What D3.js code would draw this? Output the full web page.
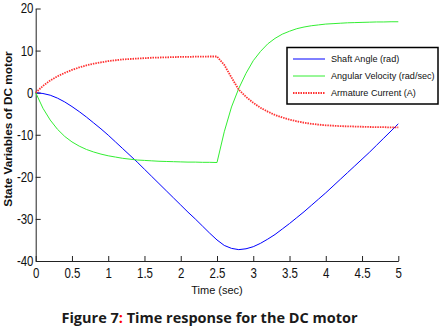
<!DOCTYPE html>
<html>
<head>
<meta charset="utf-8">
<script src="https://cdn.jsdelivr.net/npm/d3@7"></script>
<style>
  body { margin: 0; background: #fff; }
  svg { display: block; }
</style>
</head>
<body>
<script>
// time samples (sec)
const time = [0,0.1,0.2,0.3,0.4,0.5,0.6,0.7,0.8,0.9,1,1.1,1.2,1.3,1.4,1.5,1.6,1.7,1.8,1.9,2,
  2.1,2.2,2.3,2.4,2.5,2.6,2.7,2.8,2.9,3,3.1,3.2,3.3,3.4,3.5,3.6,3.7,3.8,3.9,4,
  4.1,4.2,4.3,4.4,4.5,4.6,4.7,4.8,4.9,5];

const shaftAngle = [0,-0.2,-0.6,-1.3,-2.2,-3.3,-4.5,-5.8,-7.2,-8.6,-10.1,-11.7,-13.3,-14.9,-16.5,
  -18.2,-19.9,-21.6,-23.3,-25.0,-26.7,-28.4,-30.0,-31.7,-33.4,-35.0,
  -36.3,-37.0,-37.3,-37.1,-36.6,-35.8,-34.8,-33.7,-32.4,-31.1,-29.7,-28.3,-26.8,-25.3,-23.8,
  -22.2,-20.6,-19.0,-17.4,-15.8,-14.2,-12.5,-10.8,-9.1,-7.4];

const angularVelocity = [0,-3.7,-6.5,-8.7,-10.4,-11.7,-12.7,-13.5,-14.1,-14.6,-15.0,-15.3,-15.6,
  -15.8,-16.0,-16.1,-16.2,-16.3,-16.35,-16.4,-16.45,-16.5,-16.5,-16.55,-16.55,-16.6,
  -9.3,-3.4,1.0,4.6,7.6,9.8,11.6,12.9,13.9,14.6,15.2,15.6,15.9,16.1,16.3,
  16.4,16.5,16.6,16.65,16.7,16.75,16.8,16.8,16.85,16.85];

const armatureCurrent = [0,1.6,2.9,3.9,4.7,5.4,6.0,6.5,6.9,7.2,7.5,7.7,7.9,8.0,8.1,8.2,8.3,
  8.35,8.4,8.45,8.5,8.5,8.55,8.55,8.6,8.6,
  6.6,3.6,0.7,-1.0,-2.4,-3.6,-4.5,-5.3,-5.9,-6.4,-6.8,-7.15,-7.4,-7.6,-7.75,
  -7.85,-7.95,-8.0,-8.05,-8.1,-8.15,-8.2,-8.2,-8.25,-8.25];

const seriesNames = ["Shaft Angle (rad)", "Angular Velocity (rad/sec)", "Armature Current (A)"];
const xTicks = [0,0.5,1,1.5,2,2.5,3,3.5,4,4.5,5];
const yTicks = [-40,-30,-20,-10,0,10,20];

const w = 442, h = 328;

const svg = d3.select("body").append("svg")
  .attr("width", w)
  .attr("height", h);

const x = d3.scaleLinear().domain([0, 5]).range([35.7, 398.3]);
const y = d3.scaleLinear().domain([-40, 20]).range([261, 8.5]);

const series = [
  { name: seriesNames[0], values: shaftAngle, color: "#0000ff", width: 1, dash: null },
  { name: seriesNames[1], values: angularVelocity, color: "#33ee33", width: 1, dash: null },
  { name: seriesNames[2], values: armatureCurrent, color: "#ff3333", width: 1.8, dash: "1.5,1" }
];

const line = d3.line()
  .x((d, i) => x(time[i]))
  .y(d => y(d));

// axes
const xAxis = d3.axisBottom(x).tickValues(xTicks).tickSize(-5).tickSizeOuter(0).tickPadding(7)
  .tickFormat(d => String(d));
const yAxis = d3.axisLeft(y).tickValues(yTicks).tickSize(-5).tickSizeOuter(0).tickPadding(2.7)
  .tickFormat(d => String(d));

const gx = svg.append("g")
  .attr("transform", "translate(0," + 261 + ")")
  .call(xAxis);
const gy = svg.append("g")
  .attr("transform", "translate(" + 35.7 + ",0)")
  .call(yAxis);

[gx, gy].forEach(g => {
  g.selectAll("path, line").attr("stroke", "#222");
  g.selectAll("text")
    .attr("font-family", "'Liberation Sans', Arial, sans-serif")
    .attr("font-size", 14)
    .attr("fill", "#111")
    .attr("transform", "scale(0.82,1)");
});

// lines
svg.selectAll("path.series")
  .data(series)
  .enter()
  .append("path")
  .attr("class", "series")
  .attr("fill", "none")
  .attr("stroke", d => d.color)
  .attr("stroke-width", d => d.width)
  .attr("stroke-dasharray", d => d.dash)
  .attr("d", d => line(d.values));

// axis titles
svg.append("text")
  .attr("x", 217)
  .attr("y", 294)
  .attr("text-anchor", "middle")
  .attr("font-family", "'Liberation Sans', Arial, sans-serif")
  .attr("font-size", 11)
  .attr("fill", "#111")
  .text("Time (sec)");

svg.append("text")
  .attr("transform", "translate(11.5,129) rotate(-90)")
  .attr("text-anchor", "middle")
  .attr("font-family", "'Liberation Sans', Arial, sans-serif")
  .attr("font-size", 11.8)
  .attr("font-weight", "bold")
  .attr("fill", "#111")
  .text("State Variables of DC motor");

// legend
const legend = svg.append("g");
legend.append("rect")
  .attr("x", 287).attr("y", 47.5)
  .attr("width", 151).attr("height", 56.5)
  .attr("fill", "#fff")
  .attr("stroke", "#000")
  .attr("stroke-width", 1.5);

const rows = legend.selectAll("g.row")
  .data(series)
  .enter()
  .append("g")
  .attr("class", "row")
  .attr("transform", (d, i) => "translate(0," + (59 + i * 17) + ")");

rows.append("line")
  .attr("x1", 293).attr("x2", 325)
  .attr("stroke", d => d.color)
  .attr("stroke-width", d => d.width)
  .attr("stroke-dasharray", d => d.dash);

rows.append("text")
  .attr("x", 331)
  .attr("y", 3.3)
  .attr("font-family", "'Liberation Sans', Arial, sans-serif")
  .attr("font-size", 9.1)
  .attr("fill", "#111")
  .text(d => d.name);

// caption
const cap = svg.append("text")
  .attr("x", 209.5)
  .attr("y", 323)
  .attr("text-anchor", "middle")
  .attr("font-family", "'Open Sans', 'DejaVu Sans', sans-serif")
  .attr("font-size", 14.5)
  .attr("font-weight", "bold")
  .attr("fill", "#1a1a1a");
cap.append("tspan").text("Figure 7");
cap.append("tspan").attr("fill", "#ff0000").text(":");
cap.append("tspan").text(" Time response for the DC motor");
</script>
</body>
</html>
